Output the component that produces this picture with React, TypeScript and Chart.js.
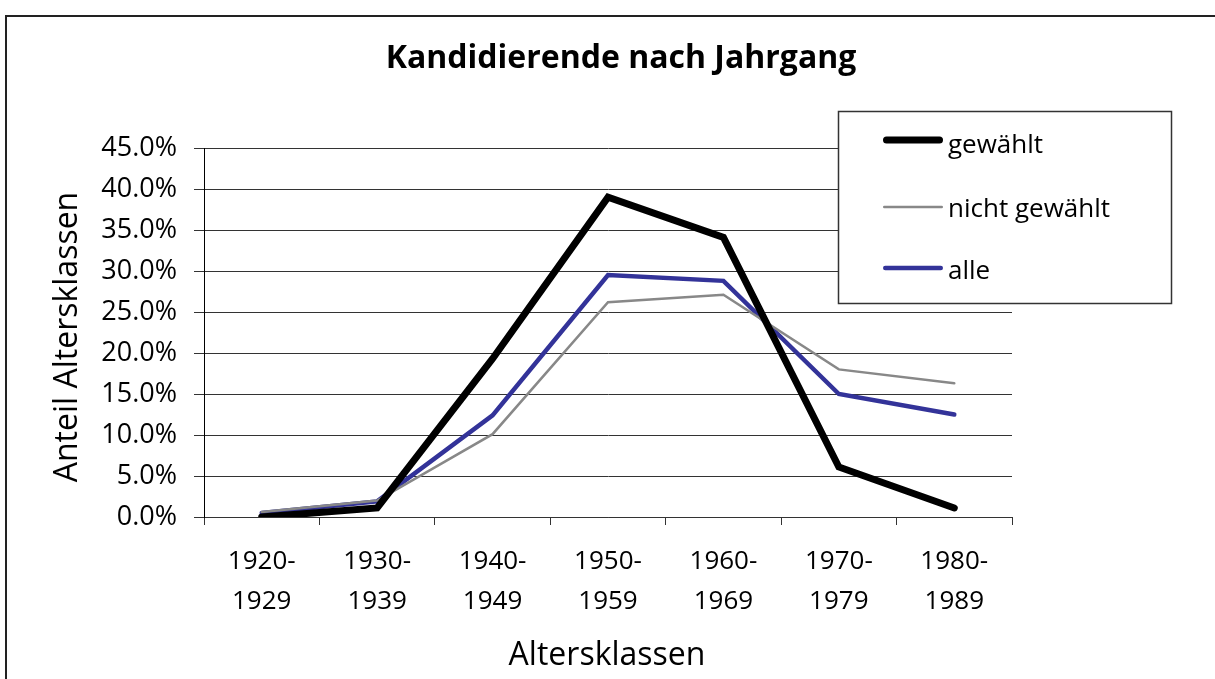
import React, { useEffect, useRef } from "react";
import { Chart, registerables } from "chart.js";

Chart.register(...registerables);

const categories: string[][] = [
  ["1920-", "1929"],
  ["1930-", "1939"],
  ["1940-", "1949"],
  ["1950-", "1959"],
  ["1960-", "1969"],
  ["1970-", "1979"],
  ["1980-", "1989"],
];

const gewaehlt: number[] = [0.0, 1.1, 19.3, 39.0, 34.1, 6.1, 1.1];
const nichtGewaehlt: number[] = [0.6, 2.0, 10.1, 26.2, 27.1, 18.0, 16.3];
const alle: number[] = [0.5, 1.9, 12.4, 29.5, 28.8, 15.0, 12.5];

const seriesLabels: string[] = ["gewählt", "nicht gewählt", "alle"];
const seriesColors: string[] = ["#000000", "#888888", "#333399"];
const seriesWidths: number[] = [7, 2.5, 4.5];

const titleText = "Kandidierende nach Jahrgang";
const xTitle = "Altersklassen";
const yTitle = "Anteil Altersklassen";

const FONT = "'Open Sans', 'Noto Sans', sans-serif";

const decorPlugin = {
  id: "decor",
  beforeDraw(chart: any) {
    const ctx = chart.ctx;
    ctx.save();
    ctx.fillStyle = "#ffffff";
    ctx.fillRect(0, 0, chart.width, chart.height);
    ctx.strokeStyle = "#222222";
    ctx.lineWidth = 2;
    ctx.strokeRect(6, 16, 1300, 800);
    ctx.restore();
  },
  afterDraw(chart: any) {
    const ctx = chart.ctx;
    ctx.save();
    ctx.fillStyle = "#000000";
    // title
    ctx.font = `bold 32px ${FONT}`;
    ctx.textAlign = "center";
    ctx.textBaseline = "alphabetic";
    ctx.fillText(titleText, 621, 68);
    // x title
    ctx.font = `32px ${FONT}`;
    ctx.fillText(xTitle, 607, 665);
    // y title
    ctx.save();
    ctx.translate(77, 337);
    ctx.rotate(-Math.PI / 2);
    ctx.fillText(yTitle, 0, 0);
    ctx.restore();

    // legend
    const lx = 838, ly = 111, lw = 333, lh = 192;
    ctx.fillStyle = "#ffffff";
    ctx.fillRect(lx, ly, lw, lh);
    ctx.strokeStyle = "#333333";
    ctx.lineWidth = 1.5;
    ctx.strokeRect(lx + 0.5, ly + 0.5, lw, lh);
    const rowsLine = [140, 207, 268];
    const rowsText = [153, 217, 279];
    chart.data.datasets.forEach((ds: any, i: number) => {
      ctx.beginPath();
      ctx.strokeStyle = ds.borderColor;
      ctx.lineWidth = ds.borderWidth;
      ctx.lineCap = "round";
      const pad = ds.borderWidth / 2;
      ctx.moveTo(883 + pad, rowsLine[i]);
      ctx.lineTo(943 - pad, rowsLine[i]);
      ctx.stroke();
      ctx.fillStyle = "#000000";
      ctx.font = `26px ${FONT}`;
      ctx.textAlign = "left";
      ctx.textBaseline = "alphabetic";
      ctx.fillText(ds.label, 948, rowsText[i]);
    });
    ctx.restore();
  },
};

export default function App() {
  const ref = useRef<HTMLCanvasElement | null>(null);

  useEffect(() => {
    if (!ref.current) return;
    const data = [gewaehlt, nichtGewaehlt, alle];
    const chart = new Chart(ref.current, {
      type: "line",
      data: {
        labels: categories,
        datasets: data.map((d, i) => ({
          label: seriesLabels[i],
          data: d,
          borderColor: seriesColors[i],
          backgroundColor: seriesColors[i],
          borderWidth: seriesWidths[i],
          pointRadius: 0,
          tension: 0,
          borderCapStyle: "round" as const,
          borderJoinStyle: "miter" as const,
          fill: false,
        })),
      },
      options: {
        animation: false,
        responsive: false,
        maintainAspectRatio: false,
        layout: { padding: { left: 0, right: 203, top: 148, bottom: 0 } },
        plugins: {
          legend: { display: false },
          title: { display: false },
          tooltip: { enabled: false },
        },
        scales: {
          x: {
            type: "category",
            offset: true,
            grid: {
              display: true,
              offset: true,
              drawOnChartArea: false,
              drawTicks: true,
              tickLength: 8,
              color: "#333333",
              lineWidth: 1,
            },
            border: { display: true, color: "#333333", width: 1 },
            ticks: {
              color: "#000000",
              font: { family: FONT, size: 26, lineHeight: 1.55 },
              padding: 16,
              maxRotation: 0,
              autoSkip: false,
            },
            afterFit: (scale: any) => {
              scale.height = 162;
            },
          },
          y: {
            min: 0,
            max: 45,
            grid: {
              color: "#333333",
              lineWidth: 1,
              drawTicks: true,
              tickLength: 10,
            },
            border: { display: true, color: "#000000", width: 1 },
            ticks: {
              stepSize: 5,
              color: "#000000",
              padding: 17,
              font: { family: FONT, size: 27 },
              callback: (v: any) => Number(v).toFixed(1) + "%",
            },
            afterFit: (scale: any) => {
              scale.width = 204;
            },
          },
        },
      },
      plugins: [decorPlugin],
    });
    return () => chart.destroy();
  }, []);

  return (
    <div style={{ position: "fixed", left: 0, top: 0, width: 1215, height: 679, background: "#fff" }}>
      <canvas ref={ref} width={1215} height={679} style={{ display: "block" }} />
    </div>
  );
}
